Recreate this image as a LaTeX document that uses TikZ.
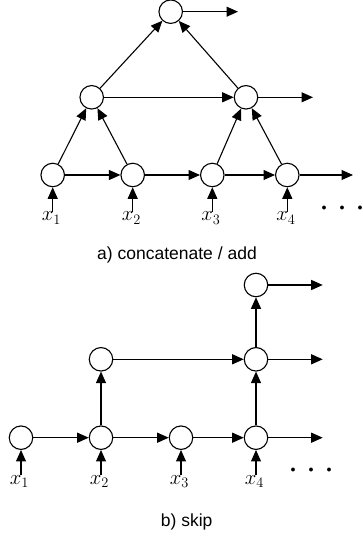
\documentclass[tikz,border=0pt]{standalone}
\usepackage{fontspec}
\newfontfamily\capfont{Liberation Sans}
\usetikzlibrary{arrows.meta}
\begin{document}
\begin{tikzpicture}[x=1pt,y=1pt,
  unit/.style={circle,draw,line width=1.1pt,minimum size=23.5pt,inner sep=0pt,fill=white},
  conn/.style={line width=1.1pt,-{Triangle[length=11.5pt,width=10pt]}},
  inlab/.style={inner sep=0pt,font=\fontsize{22}{22}\selectfont},
  captionlab/.style={font=\capfont\fontsize{17.5}{18}\selectfont},
  dotlab/.style={font=\fontsize{10}{10}\selectfont,inner sep=0pt}]
\useasboundingbox (0,0) rectangle (363,536);
% ---------- a) concatenate / add ----------
\node[unit] (t)  at (170.7,524.3) {};
\node[unit] (m1) at (91.7,438.7) {};
\node[unit] (m2) at (246,438.7) {};
\node[unit] (b1) at (52.7,361) {};
\node[unit] (b2) at (132.7,361) {};
\node[unit] (b3) at (212.3,361) {};
\node[unit] (b4) at (287.3,361) {};
\coordinate (to) at (238,524.3);
\coordinate (mo) at (313,438.7);
\coordinate (bo) at (353,361);
\node[inlab] (x1) at (51.5,318) {$x_1$};
\node[inlab] (x2) at (131.5,318) {$x_2$};
\node[inlab] (x3) at (211,318) {$x_3$};
\node[inlab] (x4) at (286,318) {$x_4$};
\node[dotlab] (da) at (342,327.3) {$\bullet$\hspace{13pt}$\bullet$\hspace{13pt}$\bullet$};
\node[captionlab] (capa) at (177,281) {a) concatenate / add};
\draw[conn] (b1) -- (b2);
\draw[conn] (b2) -- (b3);
\draw[conn] (b3) -- (b4);
\draw[conn] (b4) -- (bo);
\draw[conn] (b1) -- (m1);
\draw[conn] (b2) -- (m1);
\draw[conn] (b3) -- (m2);
\draw[conn] (b4) -- (m2);
\draw[conn] (m1) -- (m2);
\draw[conn] (m2) -- (mo);
\draw[conn] (m1) -- (t);
\draw[conn] (m2) -- (t);
\draw[conn] (t) -- (to);
\draw[conn] (x1.north -| b1) -- (b1);
\draw[conn] (x2.north -| b2) -- (b2);
\draw[conn] (x3.north -| b3) -- (b3);
\draw[conn] (x4.north -| b4) -- (b4);
% ---------- b) skip ----------
\node[unit] (T)  at (256,251) {};
\node[unit] (M1) at (101,176.7) {};
\node[unit] (M2) at (256,176.7) {};
\node[unit] (B1) at (21,98.3) {};
\node[unit] (B2) at (101,98.3) {};
\node[unit] (B3) at (181,98.3) {};
\node[unit] (B4) at (256,98.3) {};
\coordinate (To) at (322.7,251);
\coordinate (Mo) at (322.7,176.7);
\coordinate (Bo) at (322.7,98.3);
\node[inlab] (X1) at (19.5,54.3) {$x_1$};
\node[inlab] (X2) at (99.5,54.3) {$x_2$};
\node[inlab] (X3) at (179.5,54.3) {$x_3$};
\node[inlab] (X4) at (254.5,54.3) {$x_4$};
\node[dotlab] (db) at (311,65.3) {$\bullet$\hspace{13pt}$\bullet$\hspace{13pt}$\bullet$};
\node[captionlab] (capb) at (186.7,14.3) {b) skip};
\draw[conn] (B1) -- (B2);
\draw[conn] (B2) -- (B3);
\draw[conn] (B3) -- (B4);
\draw[conn] (B4) -- (Bo);
\draw[conn] (B2) -- (M1);
\draw[conn] (B4) -- (M2);
\draw[conn] (M1) -- (M2);
\draw[conn] (M2) -- (Mo);
\draw[conn] (M2) -- (T);
\draw[conn] (T) -- (To);
\draw[conn] (X1.north -| B1) -- (B1);
\draw[conn] (X2.north -| B2) -- (B2);
\draw[conn] (X3.north -| B3) -- (B3);
\draw[conn] (X4.north -| B4) -- (B4);
\end{tikzpicture}
\end{document}
